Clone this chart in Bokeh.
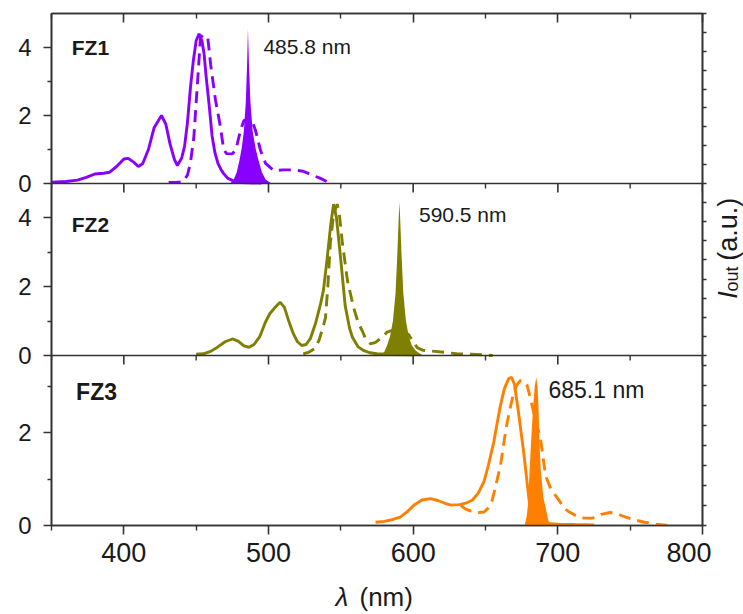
import numpy as np
from bokeh.plotting import figure
from bokeh.layouts import column, row
from bokeh.models import Range1d, LinearAxis, FixedTicker, Span, Label
from bokeh.embed import file_html
from bokeh.resources import INLINE

# ---------------- data ----------------
fz1_solid_x = [350, 360, 368, 374, 380, 386, 390, 395, 400, 403, 407, 410, 413, 417, 421, 426, 429, 432,
               435, 437, 440, 442, 444, 446, 448, 450, 452, 454, 455.5, 457, 459, 461, 463, 465, 467,
               469, 472, 476, 482, 495]
fz1_solid_y = [0.04, 0.06, 0.10, 0.18, 0.28, 0.30, 0.33, 0.50, 0.72, 0.74, 0.62, 0.50, 0.58, 1.00, 1.65,
               2.00, 1.75, 1.15, 0.70, 0.53, 0.75, 1.10, 1.80, 2.80, 3.60, 4.20, 4.40, 4.20, 3.80, 3.10,
               2.30, 1.40, 0.90, 0.60, 0.42, 0.29, 0.15, 0.07, 0.03, 0.01]
fz1_dash_x = [431, 436, 441, 444, 446, 448.4, 450.7, 453, 455, 458, 460, 463.4, 466.8, 469, 471, 475,
              477.5, 480.6, 483, 486, 489, 491, 494.5, 498, 503.7, 510, 517, 524, 530, 536, 543]
fz1_dash_y = [0.03, 0.03, 0.05, 0.25, 0.60, 1.36, 2.83, 4.30, 4.37, 4.30, 3.50, 2.44, 1.66, 1.00, 0.88,
              0.87, 1.00, 1.56, 1.85, 1.90, 1.80, 1.56, 0.97, 0.59, 0.38, 0.40, 0.40, 0.36, 0.25, 0.15, 0.0]
fz1_laser_x = [473.5, 476, 478, 480, 481.5, 483, 484.3, 485.2, 485.8, 486.5, 487.5, 489, 491, 493,
               495.5, 498, 502]
fz1_laser_y = [0.0, 0.12, 0.32, 0.70, 1.05, 1.55, 2.40, 3.50, 4.55, 3.50, 2.40, 1.55, 1.05, 0.70,
               0.32, 0.12, 0.0]

fz2_solid_x = [450, 455, 460, 465, 470, 475, 479, 483, 486.5, 490, 494, 498, 501, 505, 508, 511, 514,
               517, 520, 523, 526, 529, 532.5, 536, 538, 540.5, 543, 545, 547, 549.8, 553, 556, 558,
               562, 566, 570, 575, 585, 600]
fz2_solid_y = [0.04, 0.05, 0.12, 0.25, 0.40, 0.48, 0.42, 0.28, 0.24, 0.32, 0.55, 0.98, 1.22, 1.42,
               1.55, 1.40, 1.00, 0.65, 0.40, 0.29, 0.32, 0.50, 0.93, 1.50, 1.90, 2.80, 3.80, 4.40,
               4.00, 2.85, 1.45, 0.80, 0.53, 0.25, 0.14, 0.08, 0.05, 0.03, 0.02]
fz2_dash_x = [524, 528, 532, 535, 537.5, 539.4, 541, 542.8, 545, 547.5, 549, 551, 554.6, 558.8, 562,
              564.8, 567, 570.5, 574, 578.6, 582, 585, 588, 593, 597, 600, 603, 607, 615, 622, 630,
              640, 648, 655]
fz2_dash_y = [0.05, 0.10, 0.20, 0.45, 0.80, 1.10, 2.00, 3.30, 4.10, 4.40, 4.10, 3.30, 2.17, 1.40,
              0.95, 0.72, 0.50, 0.34, 0.38, 0.53, 0.68, 0.72, 0.70, 0.70, 0.60, 0.40, 0.22, 0.15,
              0.12, 0.09, 0.05, 0.04, 0.02, 0.0]
fz2_laser_x = [577, 580, 582, 584, 586, 587.8, 589, 590, 590.5, 591, 592, 593.2, 595, 597, 599,
               601.5, 604, 607]
fz2_laser_y = [0.0, 0.10, 0.30, 0.55, 1.00, 1.80, 2.90, 4.00, 4.46, 4.00, 2.90, 1.80, 1.00, 0.55,
               0.30, 0.15, 0.07, 0.0]

fz3_solid_x = [574, 580, 586, 591, 596, 601, 606, 612, 617, 622, 626, 632, 637, 641, 645, 649, 652,
               655.7, 658, 660.4, 663, 666, 668, 670, 673, 676.5, 680, 682, 685, 690, 700, 712, 725]
fz3_solid_y = [0.07, 0.09, 0.13, 0.18, 0.30, 0.45, 0.55, 0.58, 0.54, 0.48, 0.44, 0.45, 0.49, 0.55,
               0.70, 0.95, 1.30, 1.80, 2.20, 2.60, 2.95, 3.17, 3.20, 3.05, 2.40, 1.55, 0.58, 0.25,
               0.10, 0.05, 0.03, 0.02, 0.01]
fz3_dash_x = [633, 636, 640, 645, 649, 652, 654.6, 657, 660.4, 663, 665, 667.5, 669.6, 672, 674.2,
              676.5, 678.8, 681, 684, 688, 691.5, 695, 698.4, 701.8, 704, 708, 712, 718, 724, 730,
              736, 740, 745, 752, 760, 768, 776]
fz3_dash_y = [0.43, 0.36, 0.31, 0.28, 0.29, 0.38, 0.54, 0.85, 1.30, 1.85, 2.23, 2.60, 2.88, 3.05,
              3.13, 3.12, 3.02, 2.75, 2.35, 1.87, 1.08, 0.80, 0.65, 0.50, 0.38, 0.29, 0.22, 0.16,
              0.16, 0.24, 0.28, 0.27, 0.20, 0.13, 0.07, 0.03, 0.0]
fz3_laser_x = [677, 678.5, 679.5, 680.5, 681.5, 682.8, 684, 685.1, 686, 686.6, 687.3, 688.2, 690,
               691.5, 693.5, 695]
fz3_laser_y = [0.0, 0.20, 0.50, 1.20, 1.80, 2.50, 3.00, 3.20, 3.00, 2.60, 1.80, 1.20, 0.60, 0.40,
               0.10, 0.0]

panel_names = ["FZ1", "FZ2", "FZ3"]
laser_labels = ["485.8 nm", "590.5 nm", "685.1 nm"]
panel_colors = ["#8800FF", "#7F7F00", "#FF8000"]
x_major_ticks = [400, 500, 600, 700, 800]
x_minor_ticks = [350, 450, 550, 650, 750]
y_major_ticks = [[0, 2, 4], [0, 2, 4], [0, 2]]
y_minor_ticks = [[1, 3], [1, 3], [1, 3]]
y_limits = [(0, 5.0), (0, 5.0), (0, 3.67)]
x_title = ["λ", "(nm)"]
y_title = ["I", "out", "(a.u.)"]

solids = [(fz1_solid_x, fz1_solid_y), (fz2_solid_x, fz2_solid_y), (fz3_solid_x, fz3_solid_y)]
dashes = [(fz1_dash_x, fz1_dash_y), (fz2_dash_x, fz2_dash_y), (fz3_dash_x, fz3_dash_y)]
lasers = [(fz1_laser_x, fz1_laser_y), (fz2_laser_x, fz2_laser_y), (fz3_laser_x, fz3_laser_y)]

# ---------------- layout / style ----------------
FONT = "Liberation Sans"
TXT = "#1a1a1a"
AX = "#333333"
FRAME_W, FRAME_H = 651, 512
BL, BR, BT, BB = 51, 9, 13, 55
MAIN_W = BL + FRAME_W + BR          # 711
MAIN_H = BT + FRAME_H + BB          # 580
SIDE_W = 743 - MAIN_W               # 32
BOTTOM_H = 614 - MAIN_H             # 34
bands = [(342, 512), (170, 342), (0, 170)]          # vertical band (px from frame bottom) per panel
label_pos = [(364, 4.0), (364, 3.82), (367, 2.88)]   # panel name positions (nm, value)
laser_pos = [(496.5, 4.04), (604, 4.11), (693.5, 2.92)]
font_sizes = ["21px", "21px", "23px"]

p = figure(frame_width=FRAME_W, frame_height=FRAME_H, x_range=Range1d(350, 800),
           y_range=Range1d(0, FRAME_H), output_backend="svg", toolbar_location=None,
           min_border_left=BL, min_border_right=BR, min_border_top=BT, min_border_bottom=BB,
           background_fill_color="white", border_fill_color="white")
p.grid.visible = False
p.outline_line_color = AX
p.outline_line_width = 1.6

# per-panel ranges + left ticks
left_ticks, left_minor, overrides = [], [], {}
for i, name in enumerate(panel_names):
    lo, hi = y_limits[i]
    b0, b1 = bands[i]
    scale = (b1 - b0) / (hi - lo)
    start = lo - b0 / scale
    end = lo + (FRAME_H - b0) / scale
    p.extra_y_ranges[name] = Range1d(start, end)
    for v in y_major_ticks[i]:
        pos = round(b0 + (v - lo) * scale, 3)
        left_ticks.append(pos)
        overrides[pos] = str(v)
    for v in y_minor_ticks[i]:
        if v < hi:
            left_minor.append(round(b0 + (v - lo) * scale, 3))

yax = p.yaxis[0]
yax.ticker = FixedTicker(ticks=left_ticks, minor_ticks=left_minor)
yax.major_label_overrides = overrides
yax.major_tick_out = 8
yax.major_tick_in = 0
yax.minor_tick_out = 4
yax.minor_tick_in = 0
yax.major_label_standoff = 12
yax.major_label_text_font = FONT
yax.major_label_text_font_size = "24px"
yax.major_label_text_color = TXT
yax.axis_line_color = AX
yax.axis_line_width = 1.6
yax.major_tick_line_color = AX
yax.minor_tick_line_color = AX
yax.major_tick_line_width = 1.6
yax.minor_tick_line_width = 1.4

xax = p.xaxis[0]
xax.ticker = FixedTicker(ticks=x_major_ticks, minor_ticks=x_minor_ticks)
xax.major_tick_out = 9
xax.major_tick_in = 0
xax.minor_tick_out = 5
xax.minor_tick_in = 0
xax.major_label_standoff = 8
xax.major_label_text_font = FONT
xax.major_label_text_font_size = "27px"
xax.major_label_text_color = TXT
xax.axis_line_color = AX
xax.axis_line_width = 1.6
xax.major_tick_line_color = AX
xax.minor_tick_line_color = AX
xax.major_tick_line_width = 1.6
xax.minor_tick_line_width = 1.4

# top axis: ticks pointing down, no labels
top = LinearAxis(ticker=FixedTicker(ticks=x_major_ticks, minor_ticks=x_minor_ticks))
top.major_tick_in = 9
top.major_tick_out = 0
top.minor_tick_in = 5
top.minor_tick_out = 0
top.major_label_text_font_size = "0px"
top.major_label_text_color = None
top.major_label_standoff = 0
top.axis_line_color = AX
top.axis_line_width = 1.6
top.major_tick_line_color = AX
top.minor_tick_line_color = AX
top.major_tick_line_width = 1.6
top.minor_tick_line_width = 1.4
p.add_layout(top, "above")

# right axis: small ticks, no labels
right_ticks = sorted(set([round(t, 3) for t in np.linspace(bands[0][0], bands[0][1], 10)] +
                         [round(t, 3) for t in np.linspace(bands[1][0], bands[1][1], 10)] +
                         [round(t, 3) for t in np.arange(bands[2][0], bands[2][1], 20.0)]))
rax = LinearAxis(ticker=FixedTicker(ticks=right_ticks, minor_ticks=[]))
rax.major_tick_out = 4
rax.major_tick_in = 0
rax.major_label_text_font_size = "0px"
rax.major_label_text_color = None
rax.major_label_standoff = 0
rax.axis_line_color = AX
rax.axis_line_width = 1.6
rax.major_tick_line_color = AX
rax.major_tick_line_width = 1.4
p.add_layout(rax, "right")

# panel separators with downward ticks
for b in [bands[0][0], bands[1][0]]:
    p.add_layout(Span(location=b, dimension="width", line_color=AX, line_width=1.6))
    p.segment(x0=x_major_ticks, y0=[b] * len(x_major_ticks), x1=x_major_ticks,
              y1=[b - 9] * len(x_major_ticks), line_color=AX, line_width=1.6)
    p.segment(x0=x_minor_ticks, y0=[b] * len(x_minor_ticks), x1=x_minor_ticks,
              y1=[b - 5] * len(x_minor_ticks), line_color=AX, line_width=1.4)

# spectra
for i, name in enumerate(panel_names):
    c = panel_colors[i]
    dx, dy = dashes[i]
    sx, sy = solids[i]
    lx, ly = lasers[i]
    p.line(dx, dy, y_range_name=name, line_color=c, line_width=2.9, line_dash="12 7")
    p.line(sx, sy, y_range_name=name, line_color=c, line_width=2.9)
    p.varea(x=lx, y1=0, y2=ly, y_range_name=name, fill_color=c)
    p.add_layout(Label(x=label_pos[i][0], y=label_pos[i][1], y_range_name=name, text=name,
                       text_font=FONT, text_font_style="bold", text_font_size=font_sizes[i],
                       text_color=TXT, text_baseline="middle"))
    p.add_layout(Label(x=laser_pos[i][0], y=laser_pos[i][1], y_range_name=name, text=laser_labels[i],
                       text_font=FONT, text_font_size=font_sizes[i], text_color=TXT,
                       text_baseline="middle"))


def blank(w, h):
    f = figure(width=w, height=h, x_range=Range1d(0, w), y_range=Range1d(0, h),
               output_backend="svg", toolbar_location=None, min_border=0,
               x_axis_location=None, y_axis_location=None,
               background_fill_color="white", border_fill_color="white")
    f.outline_line_color = None
    f.grid.visible = False
    return f


# right strip: I_out (a.u.), reading upward (x = vertical centre line of each piece)
pr = blank(SIDE_W, MAIN_H)
pr.add_layout(Label(x=16.0, y=257, text=y_title[0], angle=np.pi / 2, text_font=FONT,
                    text_font_style="italic", text_font_size="27px", text_color=TXT,
                    text_baseline="middle", text_align="left"))
pr.add_layout(Label(x=20.5, y=265, text=y_title[1], angle=np.pi / 2, text_font=FONT,
                    text_font_size="18px", text_color=TXT, text_baseline="middle",
                    text_align="left"))
pr.add_layout(Label(x=16.0, y=300, text=y_title[2], angle=np.pi / 2, text_font=FONT,
                    text_font_size="27px", text_color=TXT, text_baseline="middle",
                    text_align="left"))

# bottom strip: λ (nm)
pb = blank(743, BOTTOM_H)
pb.add_layout(Label(x=335, y=18, text=x_title[0], text_font=FONT, text_font_style="italic",
                    text_font_size="26px", text_color=TXT, text_baseline="middle"))
pb.add_layout(Label(x=359, y=18, text=x_title[1], text_font=FONT,
                    text_font_size="26px", text_color=TXT, text_baseline="middle"))

layout = column(row(p, pr, spacing=0), pb, spacing=0)
open("out.html", "w").write(file_html(layout, INLINE))
